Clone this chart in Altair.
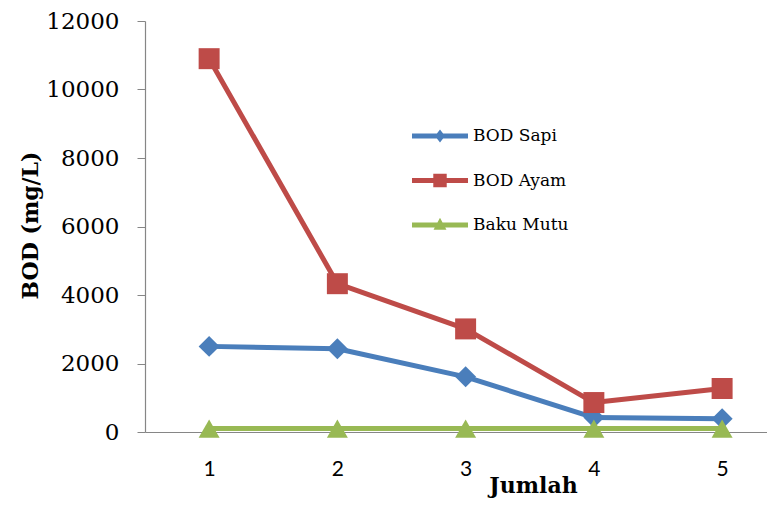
import altair as alt
import pandas as pd

jumlah = [1, 2, 3, 4, 5]
bod_sapi = [2500, 2430, 1610, 420, 390]
bod_ayam = [10900, 4330, 3010, 860, 1270]
baku_mutu = [100, 100, 100, 100, 100]
series = ["BOD Sapi", "BOD Ayam", "Baku Mutu"]
colors = ["#4A7EBB", "#BE4B48", "#98B954"]
shapes = ["diamond", "square", "triangle-up"]
y_ticks = [0, 2000, 4000, 6000, 8000, 10000, 12000]

# legend symbols: line stub + small marker (custom paths in unit box)
legend_paths = [
    "M-1,-0.09L1,-0.09L1,0.09L-1,0.09Z M0,-0.23L0.18,0L0,0.23L-0.18,0Z",
    "M-1,-0.09L1,-0.09L1,0.09L-1,0.09Z M-0.24,-0.24L0.24,-0.24L0.24,0.24L-0.24,0.24Z",
    "M-1,-0.09L1,-0.09L1,0.09L-1,0.09Z M0,-0.26L0.23,0.17L-0.23,0.17Z",
]

rows = []
for name, vals in zip(series, [bod_sapi, bod_ayam, baku_mutu]):
    for j, v in zip(jumlah, vals):
        rows.append({"Jumlah": j, "BOD": v, "Seri": name})
df = pd.DataFrame(rows)

x = alt.X(
    "Jumlah:Q",
    scale=alt.Scale(domain=[0.5, 5.35], nice=False, zero=False),
    axis=alt.Axis(
        values=jumlah, ticks=False, tickSize=0, grid=False, format="d",
        labelFont="Lato", labelFontSize=21, labelColor="black", labelPadding=26,
        domainColor="#868686", domainWidth=1.2,
        title="Jumlah", titleFont="DejaVu Serif", titleFontWeight="bold",
        titleFontSize=22, titleColor="black", titleX=388, titleY=60,
        titleBaseline="alphabetic", titleAlign="center",
    ),
)
y = alt.Y(
    "BOD:Q",
    scale=alt.Scale(domain=[0, 12000], nice=False),
    axis=alt.Axis(
        values=y_ticks, grid=False, format="d", tickSize=8,
        tickColor="#868686", domainColor="#868686", domainWidth=1.2,
        labelFont="DejaVu Serif", labelFontSize=23, labelColor="black",
        labelPadding=18,
        title="BOD (mg/L)", titleFont="DejaVu Serif", titleFontWeight="bold",
        titleFontSize=22, titleColor="black", titleX=-108, titleY=204,
        titleBaseline="alphabetic", titleAlign="center",
    ),
)
color_scale = alt.Scale(domain=series, range=colors)

leg = alt.Legend(
    orient="none", legendX=267, legendY=105, title=None, direction="vertical",
    symbolSize=3136, clipHeight=20, rowPadding=24.5, padding=0,
    labelFont="DejaVu Serif", labelFontSize=17, labelColor="black",
    labelOffset=5, symbolStrokeWidth=0,
)
legend_layer = (
    alt.Chart(df)
    .transform_filter("false")
    .mark_point(filled=True, opacity=1)
    .encode(
        x=x, y=y,
        color=alt.Color("Seri:N", scale=color_scale, legend=leg),
        shape=alt.Shape("Seri:N", scale=alt.Scale(domain=series, range=legend_paths), legend=leg),
    )
)

layers = [legend_layer]
for name, shp in zip(series, shapes):
    base = alt.Chart(df).transform_filter(alt.datum.Seri == name)
    layers.append(
        base.mark_line(strokeWidth=5, strokeCap="round", strokeJoin="round").encode(
            x=x, y=y, color=alt.Color("Seri:N", scale=color_scale, legend=None)
        )
    )
    layers.append(
        base.mark_point(shape=shp, filled=True, size=440, opacity=1).encode(
            x=x, y=y, color=alt.Color("Seri:N", scale=color_scale, legend=None)
        )
    )

chart = (
    alt.layer(*layers)
    .properties(
        width=622, height=411, autosize="none",
        padding={"left": 137, "top": 13, "right": 0, "bottom": 66},
        background="white",
    )
    .configure_view(stroke=None)
)

chart.save("out.html", embed_options={"renderer": "svg", "actions": False})
